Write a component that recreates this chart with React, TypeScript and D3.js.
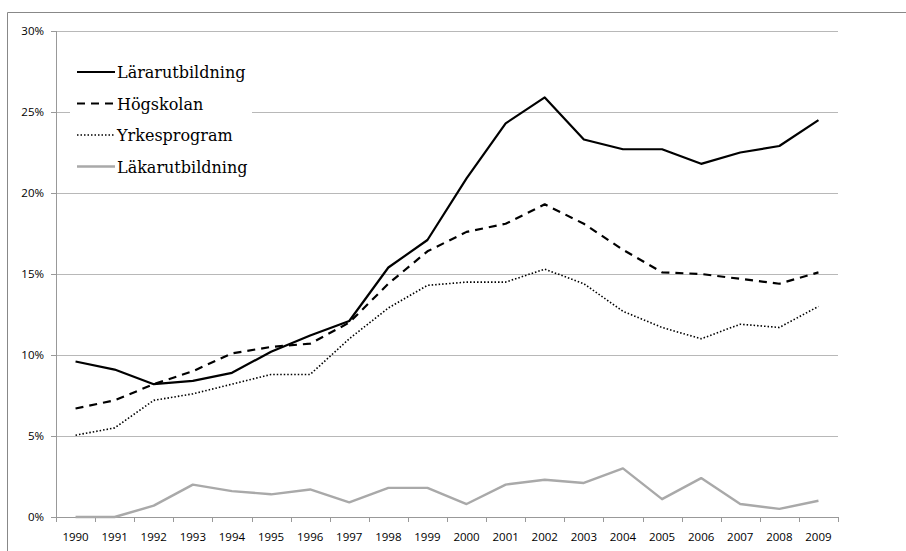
import * as d3 from 'd3';

const years = [
  '1990', '1991', '1992', '1993', '1994', '1995', '1996', '1997', '1998', '1999',
  '2000', '2001', '2002', '2003', '2004', '2005', '2006', '2007', '2008', '2009'
];

const lararutbildning = [9.6, 9.1, 8.2, 8.4, 8.9, 10.2, 11.2, 12.1, 15.4, 17.1, 20.9, 24.3, 25.9, 23.3, 22.7, 22.7, 21.8, 22.5, 22.9, 24.5];
const hogskolan = [6.7, 7.2, 8.2, 9.0, 10.1, 10.5, 10.7, 12.0, 14.4, 16.4, 17.6, 18.1, 19.3, 18.1, 16.5, 15.1, 15.0, 14.7, 14.4, 15.1];
const yrkesprogram = [5.05, 5.5, 7.2, 7.6, 8.2, 8.8, 8.8, 11.0, 12.9, 14.3, 14.5, 14.5, 15.3, 14.4, 12.7, 11.7, 11.0, 11.9, 11.7, 13.0];
const lakarutbildning = [0, 0, 0.7, 2.0, 1.6, 1.4, 1.7, 0.9, 1.8, 1.8, 0.8, 2.0, 2.3, 2.1, 3.0, 1.1, 2.4, 0.8, 0.5, 1.0];

const yTicks = [0, 5, 10, 15, 20, 25, 30];

const series = [
  { name: 'Lärarutbildning', values: lararutbildning, color: '#000', width: 2.2, dash: '' },
  { name: 'Högskolan', values: hogskolan, color: '#000', width: 2.2, dash: '8,6' },
  { name: 'Yrkesprogram', values: yrkesprogram, color: '#000', width: 1.6, dash: '1.5,2' },
  { name: 'Läkarutbildning', values: lakarutbildning, color: '#a9a9a9', width: 2.4, dash: '' }
];

export default function App() {
  const width = 906;
  const height = 551;
  const left = 56;
  const right = 838;
  const top = 31;
  const bottom = 517;

  const x = d3.scaleBand<string>().domain(years).range([left, right]);
  const y = d3.scaleLinear().domain([0, 30]).range([bottom, top]);

  const line = d3.line<number>()
    .x((_, i) => (x(years[i]) as number) + x.bandwidth() / 2)
    .y((d) => y(d));

  const boundaries = years.map((yr) => x(yr) as number).concat([right]);

  return (
    <svg width={width} height={height} style={{ position: 'absolute', left: 0, top: 0 }}>
      <rect x={0} y={0} width={width} height={height} fill="#fff" />
      {/* outer frame */}
      <line x1={7.5} y1={12.5} x2={width} y2={12.5} stroke="#888" strokeWidth={1} />
      <line x1={7.5} y1={12.5} x2={7.5} y2={height} stroke="#888" strokeWidth={1} />

      {/* gridlines */}
      {yTicks.filter((t) => t > 0).map((t) => (
        <line key={t} x1={left} x2={right} y1={Math.round(y(t)) + 0.5} y2={Math.round(y(t)) + 0.5} stroke="#b8b8b8" strokeWidth={1} />
      ))}

      {/* y axis */}
      <line x1={left + 0.5} x2={left + 0.5} y1={top} y2={bottom} stroke="#999" strokeWidth={1} />
      {yTicks.map((t) => (
        <g key={t}>
          <line x1={left - 5} x2={left} y1={Math.round(y(t)) + 0.5} y2={Math.round(y(t)) + 0.5} stroke="#999" />
          <text x={44} y={y(t) + 4} textAnchor="end" fontFamily="'Open Sans', sans-serif" fontSize={11.5} fill="#000">
            {t}%
          </text>
        </g>
      ))}

      {/* x axis */}
      <line x1={left} x2={right} y1={bottom + 0.5} y2={bottom + 0.5} stroke="#999" strokeWidth={1} />
      {boundaries.map((b, i) => (
        <line key={i} x1={Math.round(b) + 0.5} x2={Math.round(b) + 0.5} y1={bottom} y2={bottom + 5} stroke="#999" />
      ))}
      {years.map((yr) => (
        <text key={yr} x={(x(yr) as number) + x.bandwidth() / 2} y={541} textAnchor="middle" fontFamily="'Open Sans', sans-serif" fontSize={11.5} fill="#000">
          {yr}
        </text>
      ))}

      {/* series */}
      {series.slice().reverse().map((s) => (
        <path key={s.name} d={line(s.values) || ''} fill="none" stroke={s.color} strokeWidth={s.width} strokeDasharray={s.dash} strokeLinejoin="round" />
      ))}

      {/* legend */}
      <rect x={70} y={55} width={182} height={128} fill="#fff" />
      {series.map((s, i) => {
        const ly = 72 + i * 31.5;
        return (
          <g key={s.name}>
            <line x1={77} x2={115} y1={ly} y2={ly} stroke={s.color} strokeWidth={s.width} strokeDasharray={s.dash} />
            <text x={117} y={ly + 6} fontFamily="'DejaVu Serif', serif" fontSize={16} fill="#000">
              {s.name}
            </text>
          </g>
        );
      })}
    </svg>
  );
}
